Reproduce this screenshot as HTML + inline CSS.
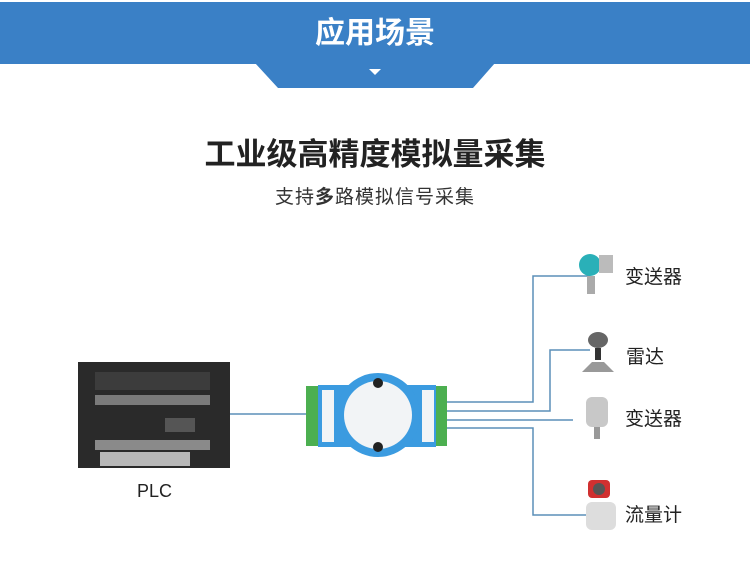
<!DOCTYPE html>
<html><head><meta charset="utf-8"><style>
body{margin:0;width:750px;height:567px;background:#fff;position:relative;overflow:hidden;font-family:"Liberation Sans","Noto Sans CJK SC",sans-serif}
.a{position:absolute}
</style></head><body>
<svg class="a" style="left:0;top:0" width="750" height="567">
<rect x="0" y="2" width="750" height="62" fill="#3a80c6"/>
<polygon points="255,63 495,63 473,88 278,88" fill="#3a80c6"/>
<polygon points="369,69 381,69 375,75" fill="#fff"/>
<g stroke="#5b8fb8" stroke-width="1.5" fill="none">
<path d="M230,414 H306"/>
<path d="M446,402 H533 V276 H590"/>
<path d="M446,411 H550 V350 H590"/>
<path d="M446,420 H573"/>
<path d="M446,428 H533 V515 H590"/>
</g>
<rect x="78" y="362" width="152" height="106" fill="#2a2a2a"/>
<rect x="95" y="372" width="115" height="18" fill="#3c3c3c"/>
<rect x="95" y="395" width="115" height="10" fill="#7a7a7a"/>
<rect x="95" y="440" width="115" height="10" fill="#8a8a8a"/>
<rect x="100" y="452" width="90" height="14" fill="#b8b8b8"/>
<rect x="165" y="418" width="30" height="14" fill="#555"/>
<rect x="306" y="386" width="12" height="60" fill="#4caf50"/>
<rect x="436" y="386" width="11" height="60" fill="#4caf50"/>
<rect x="318" y="385" width="118" height="62" fill="#3b9be0"/>
<circle cx="378" cy="415" r="42" fill="#3b9be0"/>
<circle cx="378" cy="415" r="34" fill="#f2f4f6"/>
<circle cx="378" cy="383" r="5" fill="#222"/>
<circle cx="378" cy="447" r="5" fill="#222"/>
<rect x="322" y="390" width="12" height="52" fill="#f2f4f6"/>
<rect x="422" y="390" width="12" height="52" fill="#f2f4f6"/>
<circle cx="590" cy="265" r="11" fill="#2ab0b8"/><rect x="599" y="255" width="14" height="18" fill="#bbb"/><rect x="587" y="276" width="8" height="18" fill="#aaa"/>
<ellipse cx="598" cy="340" rx="10" ry="8" fill="#666"/><rect x="595" y="348" width="6" height="12" fill="#333"/><polygon points="582,372 614,372 604,362 592,362" fill="#999"/>
<rect x="586" y="397" width="22" height="30" rx="6" fill="#c8c8c8"/><rect x="594" y="427" width="6" height="12" fill="#999"/>
<rect x="588" y="480" width="22" height="18" rx="4" fill="#d03030"/><circle cx="599" cy="489" r="6" fill="#555"/><rect x="586" y="502" width="30" height="28" rx="6" fill="#ddd"/>
</svg>
<div class="a" style="left:0;top:14px;width:750px;text-align:center;color:#fff;font-size:30px;font-weight:bold;line-height:40px">应用场景</div>
<div class="a" style="left:0;top:136px;width:750px;text-align:center;color:#222;font-size:31px;font-weight:bold;line-height:38px">工业级高精度模拟量采集</div>
<div class="a" style="left:0;top:186px;width:750px;text-align:center;color:#333;font-size:19px;line-height:24px;letter-spacing:1px">支持<b>多</b>路模拟信号采集</div>
<div class="a" style="left:137px;top:481px;font-size:18px;color:#222">PLC</div>
<div class="a" style="left:625px;top:262px;font-size:19px;color:#222">变送器</div>
<div class="a" style="left:626px;top:342px;font-size:19px;color:#222">雷达</div>
<div class="a" style="left:625px;top:404px;font-size:19px;color:#222">变送器</div>
<div class="a" style="left:625px;top:500px;font-size:19px;color:#222">流量计</div>
</body></html>
